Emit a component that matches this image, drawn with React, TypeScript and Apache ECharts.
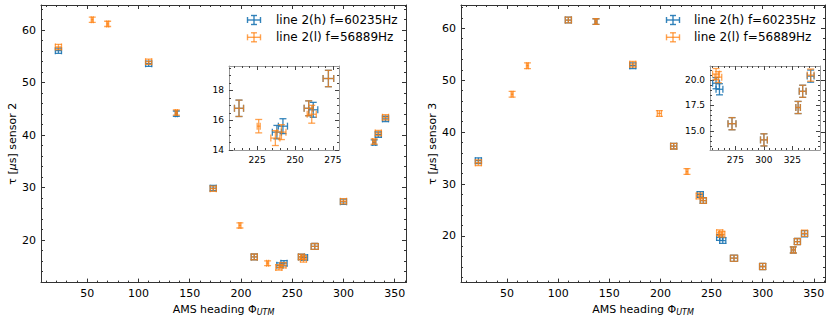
import React, { useEffect, useRef } from "react";
import * as echarts from "echarts";

// ---------- data: sensor 2 (left panel) ----------
const S2_H_X = [22, 110, 137, 173, 213, 238, 242, 259, 262, 272, 300, 330, 334, 341];
const S2_H_Y = [56.1, 53.6, 44.1, 29.9, 16.8, 15.2, 15.6, 16.8, 16.7, 18.8, 27.3, 38.6, 40.1, 43.1];
const S2_H_XERR = [3, 3, 1, 3, 3, 3, 3, 3, 3, 3.5, 3, 1.5, 3, 3];
const S2_H_YERR = [0.5, 0.5, 0.5, 0.5, 0.55, 0.45, 0.5, 0.5, 0.5, 0.55, 0.5, 0.5, 0.5, 0.5];
const S2_L_X = [22, 55, 70, 110, 137, 173, 199, 213, 226, 237, 241, 259, 261, 272, 300, 330, 334, 341];
const S2_L_Y = [56.8, 62.0, 61.2, 54.0, 44.3, 29.8, 22.8, 16.8, 15.6, 14.8, 15.2, 16.8, 16.4, 18.8, 27.4, 38.8, 40.4, 43.4];
const S2_L_XERR = [3, 1, 1, 3, 1, 3, 1, 3, 1, 3, 3, 3, 3, 3.5, 3, 1.5, 3, 3];
const S2_L_YERR = [0.5, 0.5, 0.5, 0.5, 0.5, 0.5, 0.5, 0.55, 0.45, 0.5, 0.5, 0.5, 0.6, 0.55, 0.5, 0.5, 0.5, 0.5];

// ---------- data: sensor 3 (right panel) ----------
const S3_H_X = [22, 110, 137, 173, 213, 239, 242, 258, 261, 272, 300, 330, 334, 341];
const S3_H_Y = [34.5, 61.6, 61.3, 52.8, 37.3, 28.0, 26.8, 19.7, 19.1, 15.7, 14.1, 17.3, 18.9, 20.4];
const S3_H_XERR = [3, 3, 1, 3, 3, 3, 3, 3, 3, 3.5, 3, 2, 3, 3];
const S3_H_YERR = [0.55, 0.55, 0.55, 0.55, 0.55, 0.55, 0.55, 0.55, 0.55, 0.6, 0.6, 0.6, 0.6, 0.6];
const S3_L_X = [22, 55, 70, 110, 137, 173, 199, 213, 226, 238, 242, 258, 260, 272, 300, 330, 334, 341];
const S3_L_Y = [34.1, 47.3, 52.8, 61.6, 61.3, 53.1, 43.6, 37.3, 32.4, 27.7, 26.8, 20.6, 20.3, 15.7, 14.1, 17.3, 18.9, 20.5];
const S3_L_XERR = [3, 1, 1, 3, 1, 3, 2, 3, 1, 3, 3, 3, 3, 3.5, 3, 2, 3, 3];
const S3_L_YERR = [0.55, 0.55, 0.55, 0.55, 0.55, 0.55, 0.55, 0.55, 0.55, 0.55, 0.55, 0.55, 0.55, 0.6, 0.6, 0.6, 0.6, 0.6];

// ---------- ticks ----------
const MAIN_X_TICKS = [50, 100, 150, 200, 250, 300, 350];
const S2_Y_TICKS = [20, 30, 40, 50, 60];
const S3_Y_TICKS = [20, 30, 40, 50, 60];
const IN2_X_TICKS = [225, 250, 275];
const IN2_Y_TICKS = [14, 16, 18];
const IN3_X_TICKS = [275, 300, 325];
const IN3_Y_TICKS = [15, 17.5, 20];

const LEGEND_LABELS = ["line 2(h) f=60235Hz", "line 2(l) f=56889Hz"];

const BLUE = "rgba(31,119,180,0.9)";
const ORANGE = "rgba(255,127,14,0.72)";
const FONT = "DejaVu Sans";

function minorTicks(lo: number, hi: number, step: number, majors: number[]) {
  const out: number[] = [];
  const start = Math.ceil(lo / step - 1e-9) * step;
  for (let v = start; v <= hi + 1e-9; v += step) {
    const r = Math.round(v * 1000) / 1000;
    if (!majors.some((m) => Math.abs(m - r) < 1e-6)) out.push(r);
  }
  return out;
}

function rows(xs: number[], ys: number[], xe: number[], ye: number[]) {
  return xs.map((x, i) => [x, ys[i], xe[i], ye[i]]);
}

const makeRender = (color: string, cap: number, lw: number) => (params: any, api: any) => {
  const x = api.value(0), y = api.value(1), xe = api.value(2), ye = api.value(3);
  const c = api.coord([x, y]);
  const l = api.coord([x - xe, y])[0];
  const r = api.coord([x + xe, y])[0];
  const t = api.coord([x, y + ye])[1];
  const b = api.coord([x, y - ye])[1];
  const style = { stroke: color, lineWidth: lw, fill: null };
  return {
    type: "group",
    children: [
      { type: "line", shape: { x1: l, y1: c[1], x2: r, y2: c[1] }, style },
      { type: "line", shape: { x1: c[0], y1: t, x2: c[0], y2: b }, style },
      { type: "line", shape: { x1: l, y1: c[1] - cap, x2: l, y2: c[1] + cap }, style },
      { type: "line", shape: { x1: r, y1: c[1] - cap, x2: r, y2: c[1] + cap }, style },
      { type: "line", shape: { x1: c[0] - cap, y1: t, x2: c[0] + cap, y2: t }, style },
      { type: "line", shape: { x1: c[0] - cap, y1: b, x2: c[0] + cap, y2: b }, style },
    ],
  };
};

interface AxSpec {
  grid: number;
  xr: [number, number];
  yr: [number, number];
  xMaj: number[];
  xMin: number[];
  yMaj: number[];
  yMin: number[];
  fs: number;
  lineColor: string;
  tickColor: string;
  z: number;
  yFmt?: (v: number) => string;
  xName?: string;
  yName?: string;
}

function buildAxes(s: AxSpec) {
  const base = (pos: string, range: [number, number]) => ({
    type: "value",
    gridIndex: s.grid,
    position: pos,
    min: range[0],
    max: range[1],
    z: s.z,
    splitLine: { show: false },
  });
  const tick = (vals: number[], len: number) => ({
    show: true,
    inside: true,
    length: len,
    customValues: vals,
    lineStyle: { color: s.tickColor, width: 1 },
  });
  const line = (show: boolean) => ({ show, onZero: false, lineStyle: { color: s.lineColor, width: 1 } });
  const lbl = { show: false };
  const xName = s.xName
    ? {
        name: s.xName,
        nameLocation: "middle",
        nameGap: 17,
        nameTextStyle: {
          rich: {
            a: { fontFamily: FONT, fontSize: 11, color: "#000" },
            s: { fontFamily: FONT, fontSize: 8, fontStyle: "italic", color: "#000", padding: [6, 0, 0, 0] },
          },
        },
      }
    : {};
  const yName = s.yName
    ? {
        name: s.yName,
        nameLocation: "middle",
        nameGap: 23,
        nameRotate: 90,
        nameTextStyle: {
          rich: {
            a: { fontFamily: FONT, fontSize: 11, color: "#000" },
            i: { fontFamily: FONT, fontSize: 11, fontStyle: "italic", color: "#000" },
          },
        },
      }
    : {};
  const xAxes = [
    {
      ...base("bottom", s.xr),
      ...xName,
      axisLine: line(true),
      axisTick: tick(s.xMaj, 4),
      axisLabel: { show: true, customValues: s.xMaj, margin: 5, fontFamily: FONT, fontSize: s.fs, color: "#000" },
    },
    { ...base("bottom", s.xr), axisLine: line(false), axisTick: tick(s.xMin, 2), axisLabel: lbl },
    { ...base("top", s.xr), axisLine: line(true), axisTick: tick(s.xMaj, 4), axisLabel: lbl },
    { ...base("top", s.xr), axisLine: line(false), axisTick: tick(s.xMin, 2), axisLabel: lbl },
  ];
  const yAxes = [
    {
      ...base("left", s.yr),
      ...yName,
      axisLine: line(true),
      axisTick: tick(s.yMaj, 4),
      axisLabel: {
        show: true,
        customValues: s.yMaj,
        margin: 5,
        fontFamily: FONT,
        fontSize: s.fs,
        color: "#000",
        formatter: s.yFmt ? (v: number) => s.yFmt!(v) : undefined,
      },
    },
    { ...base("left", s.yr), axisLine: line(false), axisTick: tick(s.yMin, 2), axisLabel: lbl },
    { ...base("right", s.yr), axisLine: line(true), axisTick: tick(s.yMaj, 4), axisLabel: lbl },
    { ...base("right", s.yr), axisLine: line(false), axisTick: tick(s.yMin, 2), axisLabel: lbl },
  ];
  return { xAxes, yAxes };
}

function legendGraphic(cx: number, tx: number, ys: number[]) {
  const colors = [BLUE, ORANGE];
  const children: any[] = [];
  ys.forEach((cy, i) => {
    const st = { stroke: colors[i], lineWidth: 1.4 };
    const hw = 6.5, hh = 4.5, cap = 3;
    children.push(
      { type: "line", shape: { x1: cx - hw, y1: cy, x2: cx + hw, y2: cy }, style: st },
      { type: "line", shape: { x1: cx, y1: cy - hh, x2: cx, y2: cy + hh }, style: st },
      { type: "line", shape: { x1: cx - hw, y1: cy - cap, x2: cx - hw, y2: cy + cap }, style: st },
      { type: "line", shape: { x1: cx + hw, y1: cy - cap, x2: cx + hw, y2: cy + cap }, style: st },
      { type: "line", shape: { x1: cx - cap, y1: cy - hh, x2: cx + cap, y2: cy - hh }, style: st },
      { type: "line", shape: { x1: cx - cap, y1: cy + hh, x2: cx + cap, y2: cy + hh }, style: st },
      {
        type: "text",
        x: tx,
        y: cy,
        style: {
          text: LEGEND_LABELS[i],
          fontFamily: FONT,
          fontSize: 12,
          fill: "#000",
          verticalAlign: "middle",
          align: "left",
        },
      }
    );
  });
  return children;
}

export default function App() {
  const ref = useRef<HTMLDivElement>(null);
  useEffect(() => {
    if (!ref.current) return;
    const chart = echarts.init(ref.current, undefined, { renderer: "svg" });

    const specs: AxSpec[] = [
      {
        grid: 0, xr: [5, 361], yr: [11.9, 64.8],
        xMaj: MAIN_X_TICKS, xMin: minorTicks(5, 361, 10, MAIN_X_TICKS),
        yMaj: S2_Y_TICKS, yMin: minorTicks(11.9, 64.8, 2, S2_Y_TICKS),
        fs: 11, lineColor: "#333", tickColor: "#333", z: 2,
        xName: "{a|AMS heading Φ}{s|UTM}",
        yName: "{a|τ [}{i|μ}{a|s] sensor 2}",
      },
      {
        grid: 1, xr: [206.4, 279], yr: [14, 19.64],
        xMaj: IN2_X_TICKS, xMin: minorTicks(206.4, 279, 5, IN2_X_TICKS),
        yMaj: IN2_Y_TICKS, yMin: minorTicks(14, 19.64, 0.5, IN2_Y_TICKS),
        fs: 9, lineColor: "#999", tickColor: "#444", z: 12,
      },
      {
        grid: 2, xr: [5, 361], yr: [11.0, 64.5],
        xMaj: MAIN_X_TICKS, xMin: minorTicks(5, 361, 10, MAIN_X_TICKS),
        yMaj: S3_Y_TICKS, yMin: minorTicks(11.0, 64.5, 2, S3_Y_TICKS),
        fs: 11, lineColor: "#333", tickColor: "#333", z: 2,
        xName: "{a|AMS heading Φ}{s|UTM}",
        yName: "{a|τ [}{i|μ}{a|s] sensor 3}",
      },
      {
        grid: 3, xr: [252.7, 349.2], yr: [13.1, 21.4],
        xMaj: IN3_X_TICKS, xMin: minorTicks(252.7, 349.2, 5, IN3_X_TICKS),
        yMaj: IN3_Y_TICKS, yMin: minorTicks(13.1, 21.4, 0.5, IN3_Y_TICKS),
        fs: 9, lineColor: "#999", tickColor: "#444", z: 12, yFmt: (v) => v.toFixed(1),
      },
    ];
    const xAxis: any[] = [];
    const yAxis: any[] = [];
    specs.forEach((s) => {
      const a = buildAxes(s);
      xAxis.push(...a.xAxes);
      yAxis.push(...a.yAxes);
    });

    const s2h = rows(S2_H_X, S2_H_Y, S2_H_XERR, S2_H_YERR);
    const s2l = rows(S2_L_X, S2_L_Y, S2_L_XERR, S2_L_YERR);
    const s3h = rows(S3_H_X, S3_H_Y, S3_H_XERR, S3_H_YERR);
    const s3l = rows(S3_L_X, S3_L_Y, S3_L_XERR, S3_L_YERR);
    const sets = [
      { grid: 0, h: s2h, l: s2l, cap: 3.5, z: 3 },
      { grid: 1, h: s2h, l: s2l, cap: 3.5, z: 13 },
      { grid: 2, h: s3h, l: s3l, cap: 3.5, z: 3 },
      { grid: 3, h: s3h, l: s3l, cap: 3.5, z: 13 },
    ];
    const series: any[] = [];
    sets.forEach((s) => {
      const ax = s.grid * 4;
      series.push({
        type: "custom",
        name: LEGEND_LABELS[0],
        xAxisIndex: ax,
        yAxisIndex: ax,
        clip: true,
        z: s.z,
        renderItem: makeRender(BLUE, s.cap, 1.3),
        encode: { x: 0, y: 1 },
        data: s.h,
      });
      series.push({
        type: "custom",
        name: LEGEND_LABELS[1],
        xAxisIndex: ax,
        yAxisIndex: ax,
        clip: true,
        z: s.z + 0.5,
        renderItem: makeRender(ORANGE, s.cap, 1.3),
        encode: { x: 0, y: 1 },
        data: s.l,
      });
    });

    chart.setOption({
      animation: false,
      backgroundColor: "#fff",
      textStyle: { fontFamily: FONT },
      grid: [
        { left: 41, top: 5, width: 365, height: 278, containLabel: false, z: 0 },
        { left: 229, top: 66, width: 110, height: 84, show: true, backgroundColor: "#fff", borderWidth: 0, z: 10 },
        { left: 461, top: 5, width: 364, height: 278, containLabel: false, z: 0 },
        { left: 710, top: 66, width: 110, height: 84, show: true, backgroundColor: "#fff", borderWidth: 0, z: 10 },
      ],
      xAxis,
      yAxis,
      series,
      graphic: [
        { type: "group", children: legendGraphic(254, 276, [20, 37.3]) },
        { type: "group", children: legendGraphic(673, 694, [20, 37.3]) },
      ],
    });
    return () => chart.dispose();
  }, []);
  return <div ref={ref} style={{ position: "fixed", left: 0, top: 0, width: 830, height: 321 }} />;
}
